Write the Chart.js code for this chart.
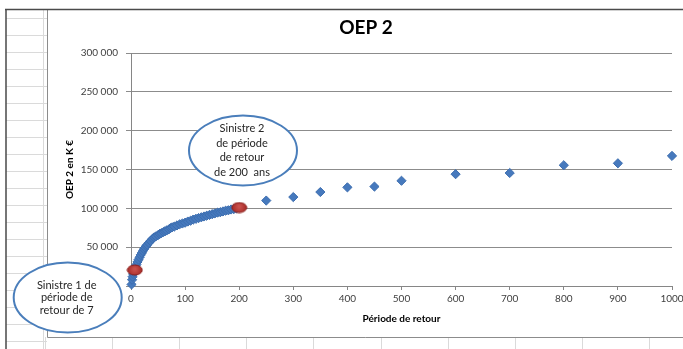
<!DOCTYPE html>
<html>
<head>
<meta charset="utf-8">
<script src="https://cdn.jsdelivr.net/npm/chart.js@4.4.1/dist/chart.umd.min.js"></script>
<style>
  html, body { margin: 0; padding: 0; background: #fff; }
  #wrap { width: 683px; height: 349px; }
</style>
</head>
<body>
<div id="wrap"><canvas id="oep"></canvas></div>
<script>
// return periods (years) and OEP values (K€)
var periods = [
  1, 2, 3, 4, 5, 6, 8, 10, 12, 14, 16, 18, 20, 22, 24, 26, 28, 30, 33, 36,
  40, 43, 46, 50, 53, 56, 60, 63, 66, 70, 73, 76, 80, 85, 90, 95, 100, 105,
  110, 115, 120, 125, 130, 135, 140, 145, 150, 155, 160, 165, 170, 175, 180,
  185, 190, 195, 200, 250, 300, 350, 400, 450, 500, 600, 700, 800, 900, 1000
];
var oep = [
  2000, 8000, 12000, 15500, 18000, 20000, 23500, 27500, 31000, 34000, 37000, 40000, 42500, 45000, 47500, 49500, 51500, 53000, 55500, 58000,
  61000, 62500, 64000, 65500, 67000, 68000, 69500, 70500, 71500, 73000, 74500, 75500, 76500, 78000, 79500, 80500, 81500, 83000,
  84000, 85500, 86500, 87500, 88500, 89500, 90500, 91500, 92500, 93500, 94500, 95000, 96000, 97000, 97500,
  98500, 99000, 100000, 101000, 110000, 114500, 121000, 127000, 128000, 135500, 144000, 145500, 155500, 158000, 167500
];

// the two highlighted claims
var sinistrePeriods = [7, 200];
var sinistreValues = [20600, 101000];

var xTickValues = [0, 100, 200, 300, 400, 500, 600, 700, 800, 900, 1000];
var yTickValues = [0, 50000, 100000, 150000, 200000, 250000, 300000];

// callout bubbles: centre in axis units, text lines
var callouts = [
  { x: -117, y: -14800, lines: ['Sinistre 1 de', 'période de', 'retour de 7'] },
  { x: 207, y: 174500, lines: ['Sinistre 2', 'de période', 'de retour', 'de 200  ans'] }
];

var FONT = 'Lato, "Open Sans", sans-serif';

function fmtThousands(v) {
  return String(v).replace(/\B(?=(\d{3})+(?!\d))/g, ' ');
}

// red oval marker
function ovalMarker() {
  var c = document.createElement('canvas');
  c.width = 17; c.height = 12;
  var g = c.getContext('2d');
  var grad = g.createRadialGradient(8.5, 5, 1, 8.5, 6, 8);
  grad.addColorStop(0, '#c9504c');
  grad.addColorStop(1, '#a22622');
  g.beginPath();
  g.ellipse(8.5, 6, 7.5, 5, 0, 0, Math.PI * 2);
  g.fillStyle = grad;
  g.fill();
  g.lineWidth = 1;
  g.strokeStyle = '#8a1d1a';
  g.stroke();
  return c;
}

var pts = periods.map(function (p, i) { return { x: p, y: oep[i] }; });
var redPts = sinistrePeriods.map(function (p, i) { return { x: p, y: sinistreValues[i] }; });

// worksheet cells behind the chart object
var sheetBackground = {
  id: 'sheetBackground',
  beforeDraw: function (chart) {
    var ctx = chart.ctx, w = chart.width, h = chart.height;
    ctx.save();
    ctx.fillStyle = '#fff';
    ctx.fillRect(0, 0, w, h);
    ctx.strokeStyle = '#dadada';
    ctx.lineWidth = 1;
    ctx.beginPath();
    for (var y = 18.5; y < h; y += 17) {
      ctx.moveTo(6, y); ctx.lineTo(47, y);
    }
    ctx.moveTo(43.5, 10); ctx.lineTo(43.5, h);
    for (var x = 44.5; x < w; x += 67.2) {
      ctx.moveTo(Math.round(x) + 0.5, 337); ctx.lineTo(Math.round(x) + 0.5, h);
    }
    ctx.stroke();
    // chart object frame
    ctx.fillStyle = '#fff';
    ctx.fillRect(48, 10, w - 48, 327);
    ctx.strokeStyle = '#8c8c8c';
    ctx.beginPath();
    ctx.moveTo(47.5, 10); ctx.lineTo(47.5, 337.5); ctx.lineTo(w, 337.5);
    ctx.stroke();
    ctx.strokeStyle = '#4a4a4a';
    ctx.lineWidth = 1.5;
    ctx.beginPath();
    ctx.moveTo(5, 9.5); ctx.lineTo(w, 9.5);
    ctx.moveTo(6, 9.5); ctx.lineTo(6, h);
    ctx.stroke();
    ctx.restore();
  }
};

// text bubbles around the highlighted claims
var calloutBubbles = {
  id: 'calloutBubbles',
  afterDraw: function (chart) {
    var ctx = chart.ctx, xs = chart.scales.x, ys = chart.scales.y;
    ctx.save();
    callouts.forEach(function (c) {
      var cx = xs.getPixelForValue(c.x), cy = ys.getPixelForValue(c.y);
      ctx.beginPath();
      ctx.ellipse(cx, cy, 54, 35, 0, 0, Math.PI * 2);
      ctx.fillStyle = '#fff';
      ctx.fill();
      ctx.lineWidth = 2;
      ctx.strokeStyle = '#4a7ebb';
      ctx.stroke();
      ctx.fillStyle = '#262626';
      ctx.font = '11px ' + FONT;
      ctx.textAlign = 'center';
      ctx.textBaseline = 'middle';
      var lh = c.lines.length > 3 ? 14.5 : 12.5;
      var y0 = cy - (c.lines.length - 1) * lh / 2;
      c.lines.forEach(function (t, i) { ctx.fillText(t, cx - 1, y0 + i * lh); });
    });
    ctx.restore();
  }
};

new Chart(document.getElementById('oep'), {
  type: 'scatter',
  data: {
    datasets: [
      {
        label: 'Sinistres',
        data: redPts,
        pointStyle: ovalMarker(),
        clip: false,
        order: 0
      },
      {
        label: 'OEP 2',
        data: pts,
        pointStyle: 'rectRot',
        pointRadius: 4.6,
        pointHoverRadius: 4.6,
        backgroundColor: '#4679bd',
        borderColor: '#3d6eb0',
        borderWidth: 1,
        clip: false,
        order: 1
      }
    ]
  },
  options: {
    responsive: true,
    maintainAspectRatio: false,
    animation: false,
    events: [],
    layout: { padding: { left: 60, right: 11, top: 10, bottom: 23 } },
    plugins: {
      legend: { display: false },
      tooltip: { enabled: false },
      title: {
        display: true,
        text: 'OEP 2',
        color: '#000',
        font: { family: FONT, size: 19, weight: 'bold' },
        padding: { top: 6.5, bottom: 13.7 }
      }
    },
    scales: {
      x: {
        type: 'linear',
        min: 0,
        max: 1000,
        afterBuildTicks: function (s) { s.ticks = xTickValues.map(function (v) { return { value: v }; }); },
        afterFit: function (s) { s.height = 40; s.paddingLeft = 0; s.paddingRight = 0; },
        grid: { drawOnChartArea: false, tickLength: 4, color: '#868686' },
        border: { color: '#868686' },
        ticks: {
          padding: 3,
          color: '#404040',
          font: { family: FONT, size: 10 },
          maxRotation: 0,
          autoSkip: false,
          callback: function (v) { return String(v); }
        },
        title: {
          display: true,
          text: 'Période de retour',
          color: '#000',
          font: { family: FONT, size: 10, weight: 'bold' },
          padding: { top: 0, bottom: 1 }
        }
      },
      y: {
        type: 'linear',
        min: 0,
        max: 300000,
        afterBuildTicks: function (s) { s.ticks = yTickValues.map(function (v) { return { value: v }; }); },
        afterFit: function (s) { s.width = 71; s.paddingTop = 0; s.paddingBottom = 0; },
        grid: { color: '#8c8c8c', tickLength: 5 },
        border: { color: '#868686' },
        ticks: {
          padding: 8,
          color: '#404040',
          font: { family: FONT, size: 10 },
          autoSkip: false,
          callback: function (v) { return fmtThousands(v); }
        },
        title: {
          display: true,
          text: 'OEP 2 en K €',
          color: '#000',
          font: { family: FONT, size: 10, weight: 'bold' },
          padding: { top: 4, bottom: 0 }
        }
      }
    }
  },
  plugins: [sheetBackground, calloutBubbles]
});
</script>
</body>
</html>
